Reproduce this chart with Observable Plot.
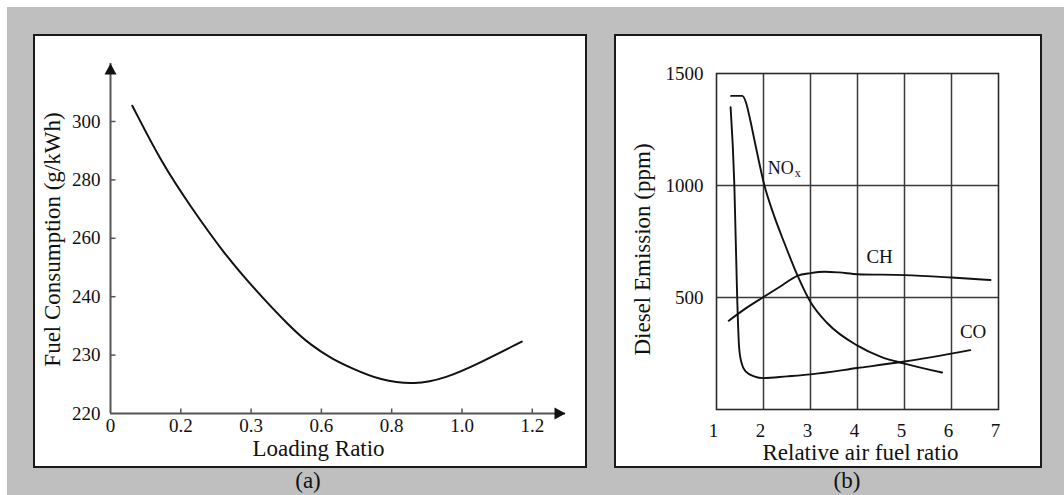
<!DOCTYPE html>
<html><head><meta charset="utf-8">
<script src="https://cdn.jsdelivr.net/npm/d3@7"></script>
<script src="https://cdn.jsdelivr.net/npm/@observablehq/plot@0.6"></script>
<style>
html,body{margin:0;padding:0;background:#fff;width:1064px;height:495px;overflow:hidden;font-family:'Liberation Serif','Times New Roman',serif;}
#bg{position:absolute;left:7px;top:7px;width:1057px;height:488px;background:#bfbfbf;}
.panel{position:absolute;box-sizing:border-box;border:2px solid #1a1a1a;background:#fff;}
#pa{left:33px;top:34px;width:554px;height:434px;}
#pb{left:614px;top:34px;width:428px;height:434px;}
.cap{position:absolute;font-size:23px;line-height:1;color:#111;transform:translate(-50%,-50%);white-space:nowrap;}
.panel svg{display:block;}
</style></head>
<body>
<div id="bg"></div>
<div class="panel" id="pa"></div>
<div class="panel" id="pb"></div>
<div class="cap" style="left:308px;top:480px">(a)</div>
<div class="cap" style="left:847px;top:480px">(b)</div>
<script>
// ---------- Panel (a) data ----------
const xTicksA = [0, 0.2, 0.3, 0.6, 0.8, 1.0, 1.2];
const xTickLabelsA = ["0", "0.2", "0.3", "0.6", "0.8", "1.0", "1.2"];
const yTicksA = [220, 230, 240, 260, 280, 300];
const loadRatio = [0.062, 0.147, 0.213, 0.262, 0.319, 0.467, 0.555, 0.629, 0.688, 0.767, 0.865, 0.953, 1.052, 1.170];
const fuelCons  = [305.4, 285.5, 271.2, 254.6, 242.2, 234.8, 231.7, 229.4, 227.7, 225.7, 224.9, 226.0, 228.7, 232.3];

// ---------- Panel (b) data ----------
const xTicksB = [1, 2, 3, 4, 5, 6, 7];
const yTicksB = [500, 1000, 1500];
const noxX = [1.31, 1.55, 1.62, 1.72, 1.81, 2.02, 2.2, 2.45, 2.72, 3.0, 3.36, 4.0, 4.5, 5.0, 5.8];
const noxY = [1400, 1400, 1375, 1290, 1200, 1000, 880, 740, 600, 480, 385, 285, 235, 205, 165];
const chX = [1.26, 1.6, 2.0, 2.4, 2.72, 3.0, 3.3, 3.6, 4.0, 5.0, 6.0, 6.83];
const chY = [396, 448, 502, 555, 597, 609, 615, 612, 604, 600, 589, 578];
const coX = [1.30, 1.38, 1.44, 1.48, 1.53, 1.62, 1.8, 2.0, 2.5, 3.0, 4.0, 5.0, 6.4];
const coY = [1350, 1000, 500, 280, 210, 170, 148, 140, 148, 157, 185, 214, 265];
const curveLabels = [
  {name: "CH", x: 4.47, y: 681},
  {name: "CO", x: 6.46, y: 345}
];
const noxLabel = {x: 2.09, y: 1075};

const FONT = "'Liberation Serif','Times New Roman',serif";
const INK = "#111";

// custom symbols
const arrowHead = {draw(ctx) { ctx.moveTo(0, 0); ctx.lineTo(-6, 11); ctx.lineTo(6, 11); ctx.closePath(); }};
const tickUp = {draw(ctx) { ctx.moveTo(0, 0); ctx.lineTo(0, -5); }};
const tickRight = {draw(ctx) { ctx.moveTo(0, 0); ctx.lineTo(5, 0); }};

// ---------- Panel (a) ----------
{
  const W = 550, H = 430, mL = 75, mR = 20, mT = 27, mB = 53;
  const xStep = 70.3, yStep = 58.4;
  // the printed axes place unevenly spaced tick values at equal distances:
  // map each value to its tick position (piecewise linear) before scaling
  const idxX = d3.scaleLinear().domain(xTicksA).range(xTicksA.map((d, i) => i));
  const idxY = d3.scaleLinear().domain(yTicksA).range(yTicksA.map((d, i) => i));
  const dataA = loadRatio.map((x, i) => ({x, y: fuelCons[i]}));
  const plotA = Plot.plot({
    width: W, height: H,
    marginLeft: mL, marginRight: mR, marginTop: mT, marginBottom: mB,
    style: {fontFamily: FONT, fontSize: "19px", background: "transparent", color: INK, overflow: "visible"},
    x: {type: "linear", transform: d => idxX(d), domain: [0, 6], range: [mL, mL + 6 * xStep], axis: null},
    y: {type: "linear", transform: d => idxY(d), domain: [0, 5], range: [H - mB, H - mB - 5 * yStep], axis: null},
    marks: [
      Plot.ruleY([220], {stroke: "#555", strokeWidth: 2}),
      Plot.ruleX([0], {stroke: "#555", strokeWidth: 2}),
      Plot.dot([0], {x: d => d, frameAnchor: "top", symbol: arrowHead, fill: INK, stroke: "none"}),
      Plot.dot([220], {y: d => d, frameAnchor: "right", symbol: arrowHead, rotate: 90, fill: INK, stroke: "none"}),
      Plot.dot(xTicksA.slice(1), {x: d => d, y: 220, symbol: tickUp, fill: "none", stroke: "#555", strokeWidth: 1.5}),
      Plot.dot(yTicksA.slice(1), {x: 0, y: d => d, symbol: tickRight, fill: "none", stroke: "#555", strokeWidth: 1.5}),
      Plot.text(xTicksA, {x: d => d, y: 220, text: (d, i) => xTickLabelsA[i], dy: 12, fill: INK, fontSize: 19}),
      Plot.text(yTicksA, {x: 0, y: d => d, text: d => String(d), textAnchor: "end", dx: -10, fill: INK, fontSize: 19}),
      Plot.line(dataA, {x: "x", y: "y", curve: "basis", stroke: INK, strokeWidth: 2}),
      Plot.text(["Loading Ratio"], {frameAnchor: "bottom", textAnchor: "middle", lineAnchor: "middle", dx: -19.5, dy: 35, fill: INK, fontSize: 23}),
      Plot.text(["Fuel Consumption (g/kWh)"], {frameAnchor: "left", textAnchor: "middle", lineAnchor: "middle", rotate: -90, dx: -58, dy: 1, fill: INK, fontSize: 23})
    ]
  });
  document.getElementById("pa").appendChild(plotA);
}

// ---------- Panel (b) ----------
{
  const W = 424, H = 430, mL = 100, mR = 42, mT = 37, mB = 57;
  const nox = noxX.map((x, i) => ({x, y: noxY[i]}));
  const ch = chX.map((x, i) => ({x, y: chY[i]}));
  const co = coX.map((x, i) => ({x, y: coY[i]}));
  const grid = {stroke: "#3a3a3a", strokeWidth: 1.5};
  const lineStyle = {x: "x", y: "y", curve: "monotone-x", stroke: INK, strokeWidth: 1.9};
  const plotB = Plot.plot({
    width: W, height: H,
    marginLeft: mL, marginRight: mR, marginTop: mT, marginBottom: mB,
    style: {fontFamily: FONT, fontSize: "19px", background: "transparent", color: INK, overflow: "visible"},
    x: {domain: [1, 7], axis: null},
    y: {domain: [0, 1500], axis: null},
    marks: [
      Plot.ruleX(xTicksB.slice(1, -1), grid),
      Plot.ruleY(yTicksB.slice(0, -1), grid),
      Plot.frame({stroke: "#2a2a2a", strokeWidth: 1.6}),
      Plot.line(nox, lineStyle),
      Plot.line(ch, lineStyle),
      Plot.line(co, lineStyle),
      Plot.text(xTicksB, {x: d => d, frameAnchor: "bottom", lineAnchor: "middle", text: d => String(d), dy: 21, dx: -3, fill: INK, fontSize: 19}),
      Plot.text(yTicksB, {y: d => d, frameAnchor: "left", lineAnchor: "middle", text: d => String(d), textAnchor: "end", dx: -13, fill: INK, fontSize: 19}),
      Plot.text(curveLabels, {x: "x", y: "y", text: "name", fill: INK, fontSize: 19}),
      Plot.text([noxLabel], {x: "x", y: "y", text: () => "NO", textAnchor: "start", fill: INK, fontSize: 18}),
      Plot.text([noxLabel], {x: "x", y: "y", text: () => "x", textAnchor: "start", dx: 27, dy: 4.5, fill: INK, fontSize: 12}),
      Plot.text(["Relative air fuel ratio"], {frameAnchor: "bottom", textAnchor: "middle", lineAnchor: "middle", dx: 3, dy: 43, fill: INK, fontSize: 23}),
      Plot.text(["Diesel Emission (ppm)"], {frameAnchor: "left", textAnchor: "middle", lineAnchor: "middle", rotate: -90, dx: -74, dy: 8, fill: INK, fontSize: 23})
    ]
  });
  document.getElementById("pb").appendChild(plotB);
}
</script>
</body></html>
